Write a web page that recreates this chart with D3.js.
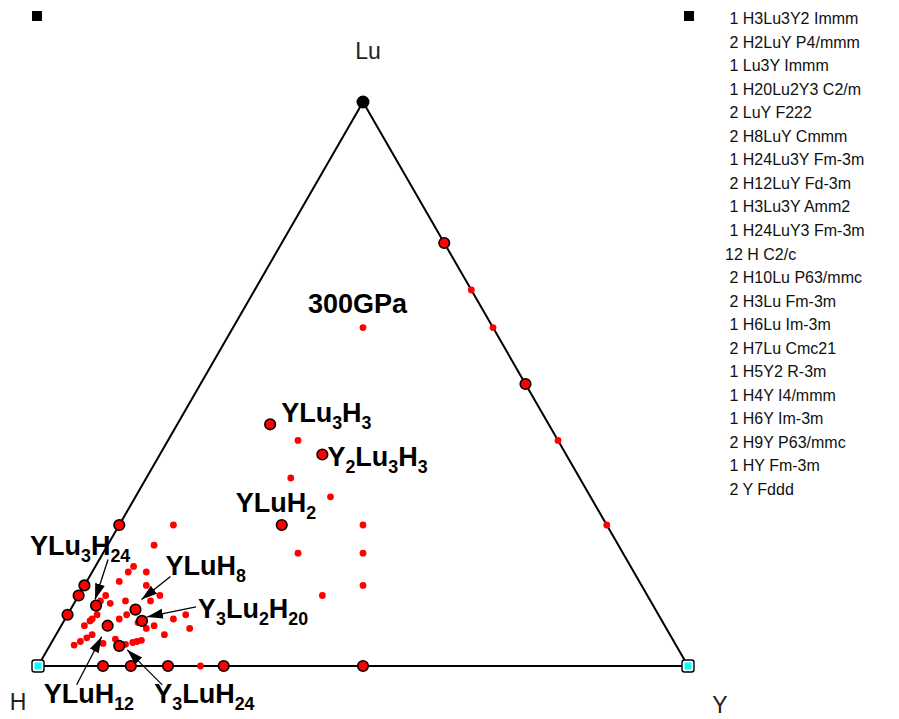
<!DOCTYPE html>
<html>
<head>
<meta charset="utf-8">
<script src="https://cdn.jsdelivr.net/npm/d3@7"></script>
<style>
  html, body { margin: 0; padding: 0; background: #fff; }
  svg { display: block; }
  text { font-family: "Liberation Sans", Arial, Helvetica, sans-serif; }
</style>
</head>
<body>
<svg id="chart" width="899" height="719"></svg>
<script>
// ---- data -------------------------------------------------------------
// corners of the ternary diagram
const elements = ["H", "Lu", "Y"];
const pressureLabel = "300GPa";

// phases on the convex hull (legend order)
const hullNames = ["H3Lu3Y2", "H2LuY", "Lu3Y", "H20Lu2Y3", "LuY", "H8LuY", "H24Lu3Y",
  "H12LuY", "H3Lu3Y", "H24LuY3", "H", "H10Lu", "H3Lu", "H6Lu", "H7Lu", "H5Y2",
  "H4Y", "H6Y", "H9Y", "HY", "Y"];
const hullCounts = [1, 2, 1, 1, 2, 2, 1, 2, 1, 1, 12, 2, 2, 1, 2, 1, 1, 1, 2, 1, 2];
const hullSpaceGroups = ["Immm", "P4/mmm", "Immm", "C2/m", "F222", "Cmmm", "Fm-3m",
  "Fd-3m", "Amm2", "Fm-3m", "C2/c", "P63/mmc", "Fm-3m", "Im-3m", "Cmc21", "R-3m",
  "I4/mmm", "Im-3m", "P63/mmc", "Fm-3m", "Fddd"];

// pure lutetium reference
const referenceNames = ["Lu"];

// metastable phases above the hull
const metastableNames = [
  "Lu2Y", "Lu3Y2", "Lu2Y3", "LuY3", "H3Y",
  "HLu3Y", "H2Lu2Y", "H4Lu3Y2", "H4Lu3Y3", "H3Lu2Y3", "H5Lu2Y3", "H2LuY2", "H3LuY3",
  "H4LuY3", "H8Lu3Y", "H10Lu3Y", "H14Lu3Y", "H13Lu3Y", "H9Lu2Y", "H16Lu3Y", "H16Lu3Y2",
  "H20Lu3Y", "H22Lu3Y", "H15Lu2Y", "H21Lu3Y2", "H20Lu3Y3", "H6LuY", "H25Lu2Y",
  "H22Lu2Y", "H21Lu2Y", "H19Lu2Y", "H10LuY", "H9LuY", "H21Lu2Y3", "H12LuY2",
  "H11LuY2", "H9LuY2", "H8LuY2", "H11LuY3", "H14LuY3", "H25LuY", "H21LuY", "H18LuY",
  "H16LuY", "H22LuY2", "H18LuY2", "H22LuY3", "H20LuY3", "H19LuY3", "H18LuY3"];

// annotated phases: hull phase -> displayed formula
const noteTargets = ["H3Lu3Y", "H3Lu3Y2", "H2LuY", "H24Lu3Y", "H8LuY", "H20Lu2Y3", "H12LuY", "H24LuY3"];
const noteTexts = ["YLu3H3", "Y2Lu3H3", "YLuH2", "YLu3H24", "YLuH8", "Y3Lu2H20", "YLuH12", "Y3LuH24"];

// ---- layout -----------------------------------------------------------
const svg = d3.select("#chart");
const H3 = Math.sqrt(3) / 2;
const x = d3.scaleLinear().domain([0, 1]).range([38, 688]);
const y = d3.scaleLinear().domain([0, H3]).range([666, 102]);

// label offsets (text baseline) and arrow start/tip, relative to the marked phase
const noteLayout = [
  { dx: 11, dy: -2 },
  { dx: 5, dy: 11 },
  { dx: -46, dy: -13 },
  { dx: -66, dy: -51, arrow: [12, -46, -1, -6] },
  { dx: 30, dy: -35, arrow: [35, -33, 6, -10] },
  { dx: 56, dy: -3, arrow: [54, -14, 5, -4] },
  { dx: -64, dy: 77, arrow: [-31, 59, -6, 11] },
  { dx: 35, dy: 57, arrow: [43, 39, 8, 4] }
];

function fractions(name) {
  const c = { H: 0, Lu: 0, Y: 0 };
  name.replace(/([A-Z][a-z]?)(\d*)/g, (m, el, n) => { c[el] += n ? +n : 1; return m; });
  const t = c.H + c.Lu + c.Y;
  return { H: c.H / t, Lu: c.Lu / t, Y: c.Y / t };
}
function pos(name) {
  const f = fractions(name);
  return [x(f.Y + f.Lu / 2), y(f.Lu * H3)];
}

// arrowhead
svg.append("defs").append("marker")
  .attr("id", "head").attr("markerUnits", "userSpaceOnUse")
  .attr("markerWidth", 17).attr("markerHeight", 11)
  .attr("refX", 16).attr("refY", 5).attr("orient", "auto")
  .append("path").attr("d", "M0,0 L16,5 L0,10 Z").attr("fill", "#000");

// triangle
const corners = elements.map(pos);
svg.append("path")
  .attr("d", d3.line()(corners) + "Z")
  .attr("fill", "none").attr("stroke", "#000").attr("stroke-width", 2)
  .attr("stroke-linejoin", "round");

// corner labels
const cornerLabelOffset = { H: [-20, 44], Lu: [5, -43], Y: [32, 47] };
elements.forEach(el => {
  const p = pos(el);
  svg.append("text")
    .attr("x", p[0] + cornerLabelOffset[el][0]).attr("y", p[1] + cornerLabelOffset[el][1])
    .attr("text-anchor", "middle").attr("font-size", 23).attr("fill", "#222")
    .text(el);
});

// metastable phases
svg.append("g").selectAll("circle").data(metastableNames).join("circle")
  .attr("cx", d => pos(d)[0]).attr("cy", d => pos(d)[1])
  .attr("r", 3.4).attr("fill", "#f00");

// stable compounds
const compounds = hullNames.filter(n => fractions(n).H < 1 && fractions(n).Y < 1);
svg.append("g").selectAll("circle").data(compounds).join("circle")
  .attr("cx", d => pos(d)[0]).attr("cy", d => pos(d)[1])
  .attr("r", 5.3).attr("fill", "#f00").attr("stroke", "#000").attr("stroke-width", 1.6);

// pure references
referenceNames.forEach(n => {
  const p = pos(n);
  svg.append("circle").attr("cx", p[0]).attr("cy", p[1]).attr("r", 6.5).attr("fill", "#000");
});
const unaries = hullNames.filter(n => fractions(n).H === 1 || fractions(n).Y === 1);
const ug = svg.append("g").selectAll("g").data(unaries).join("g")
  .attr("transform", d => `translate(${pos(d)[0]},${pos(d)[1]})`);
ug.append("rect").attr("x", -6).attr("y", -6).attr("width", 12).attr("height", 12)
  .attr("rx", 2.5).attr("fill", "#fff").attr("stroke", "#000").attr("stroke-width", 1.4);
ug.append("rect").attr("x", -3.5).attr("y", -3.5).attr("width", 7).attr("height", 7)
  .attr("fill", "#0ff");

// formula text with subscripted digits
function formula(g, str, px, py, size) {
  const t = g.append("text").attr("x", px).attr("y", py)
    .attr("font-size", size).attr("font-weight", "bold").attr("fill", "#000");
  let low = false;
  str.split(/(\d+)/).filter(s => s).forEach(s => {
    const isNum = /^\d+$/.test(s);
    const ts = t.append("tspan").text(s);
    if (isNum) { ts.attr("font-size", size * 0.66); if (!low) ts.attr("dy", 7); low = true; }
    else if (low) { ts.attr("dy", -7); low = false; }
  });
  return t;
}

const notes = svg.append("g");
noteTargets.forEach((target, i) => {
  const p = pos(target), L = noteLayout[i];
  if (L.arrow) {
    notes.append("line")
      .attr("x1", p[0] + L.arrow[0]).attr("y1", p[1] + L.arrow[1])
      .attr("x2", p[0] + L.arrow[2]).attr("y2", p[1] + L.arrow[3])
      .attr("stroke", "#000").attr("stroke-width", 1.3)
      .attr("marker-end", "url(#head)");
  }
  formula(notes, noteTexts[i], p[0] + L.dx, p[1] + L.dy, 27);
});

// pressure tag, placed below the Lu corner
const lu = pos("Lu");
svg.append("text").attr("x", lu[0] - 55).attr("y", lu[1] + 211)
  .attr("font-size", 27).attr("font-weight", "bold").text(pressureLabel);

// legend
svg.append("rect").attr("x", 32).attr("y", 11).attr("width", 10).attr("height", 10).attr("fill", "#000");
svg.append("rect").attr("x", 684).attr("y", 11).attr("width", 10).attr("height", 10).attr("fill", "#000");
svg.append("g").selectAll("text").data(hullNames).join("text")
  .attr("x", 725).attr("y", (d, i) => 24 + i * 23.55)
  .attr("font-size", 16).attr("fill", "#111")
  .style("white-space", "pre")
  .text((d, i) => `${String(hullCounts[i]).padStart(2, " ")} ${d} ${hullSpaceGroups[i]}`);
</script>
</body>
</html>
